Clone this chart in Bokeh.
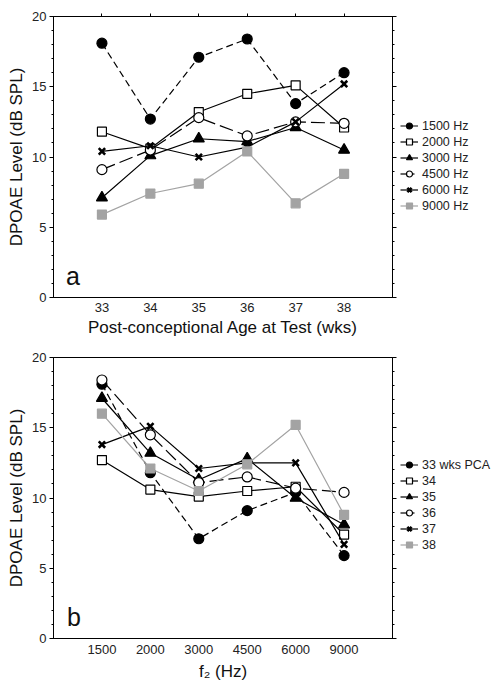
from bokeh.plotting import figure
from bokeh.models import (LinearAxis, Legend, LegendItem, FixedTicker, Range1d,
                          Label, FactorRange, CategoricalAxis)
from bokeh.layouts import column, row
from bokeh.embed import file_html
from bokeh.resources import INLINE

# ---------------- data ----------------
ages = [33, 34, 35, 36, 37, 38]
freqs = ["1500", "2000", "3000", "4500", "6000", "9000"]

lvl_1500 = [18.1, 12.7, 17.1, 18.4, 13.8, 16.0]
lvl_2000 = [11.8, 10.6, 13.2, 14.5, 15.1, 12.1]
lvl_3000 = [7.1, 10.1, 11.3, 11.1, 12.1, 10.5]
lvl_4500 = [9.1, 10.5, 12.8, 11.5, 12.5, 12.4]
lvl_6000 = [10.4, 10.8, 10.0, 10.7, 12.5, 15.2]
lvl_9000 = [5.9, 7.4, 8.1, 10.4, 6.7, 8.8]

top_labels = ["1500 Hz", "2000 Hz", "3000 Hz", "4500 Hz", "6000 Hz", "9000 Hz"]
bottom_labels = ["33 wks PCA", "34", "35", "36", "37", "38"]

y_ticks = [0, 5, 10, 15, 20]

freq_series = [lvl_1500, lvl_2000, lvl_3000, lvl_4500, lvl_6000, lvl_9000]
age_series = [[s[i] for s in freq_series] for i in range(len(ages))]

# ---------------- styles ----------------
FONT = "Liberation Sans"
GRAY = "#a3a3a3"
markers = ["circle", "square", "triangle", "circle", "x", "square"]
fills = ["black", "white", "black", "white", "black", GRAY]
lcolors = ["black", "black", "black", "black", "black", GRAY]
dashes = ["7 4", "solid", "solid", "14 5", "solid", "solid"]
msizes = [10, 9, 11, 10, 9, 9]
mwidths = [1.2, 1.2, 1.2, 1.2, 2.6, 1.2]


def style_axis(ax):
    ax.axis_line_color = "black"
    ax.axis_line_width = 1
    ax.major_tick_line_color = "black"
    ax.minor_tick_line_color = "black"
    ax.major_tick_in = 0
    ax.minor_tick_in = 0
    ax.major_tick_out = 4
    ax.minor_tick_out = 2
    ax.major_label_text_font = FONT
    ax.major_label_text_font_size = "13px"
    ax.major_label_text_color = "#222222"
    ax.axis_label_text_font = FONT
    ax.axis_label_text_font_size = "17px"
    ax.axis_label_text_font_style = "normal"
    ax.axis_label_text_color = "#111111"


def hide_labels(ax, keys):
    ax.major_label_overrides = {k: "" for k in keys}
    ax.major_label_standoff = 0


def draw_series(p, xs, series):
    rends = []
    for i, ys in enumerate(series):
        r_line = p.line(xs, ys, line_color=lcolors[i], line_width=1.2,
                        line_dash=dashes[i])
        if markers[i] == "x":
            r_mark = p.scatter(xs, ys, marker="x", size=msizes[i],
                               line_color=lcolors[i], line_width=mwidths[i])
        else:
            r_mark = p.scatter(xs, ys, marker=markers[i], size=msizes[i],
                               fill_color=fills[i], line_color=lcolors[i],
                               line_width=mwidths[i])
        rends.append((r_line, r_mark))
    return rends


def make_panel(x_range, xs, series, xlabel, letter, letter_x,
               border_top, border_bottom, lab_standoff, ax_standoff,
               categorical):
    p = figure(x_range=x_range, y_range=Range1d(0, 20),
               output_backend="svg", toolbar_location=None,
               min_border_left=53, min_border_top=border_top,
               min_border_right=6, min_border_bottom=border_bottom,
               x_axis_type=None, y_axis_type=None)
    p.frame_width = 339
    p.frame_height = 281
    p.xgrid.visible = False
    p.ygrid.visible = False
    p.outline_line_color = "black"
    p.outline_line_width = 1
    p.background_fill_color = "white"

    yt = FixedTicker(ticks=y_ticks, minor_ticks=list(range(0, 21)))
    left = LinearAxis(ticker=yt, axis_label="DPOAE Level (dB SPL)")
    style_axis(left)
    left.major_label_standoff = 3
    left.axis_label_standoff = 3
    p.add_layout(left, "left")

    right = LinearAxis(ticker=yt)
    style_axis(right)
    hide_labels(right, y_ticks)
    p.add_layout(right, "right")

    if categorical:
        below = CategoricalAxis(axis_label=xlabel)
    else:
        xt = FixedTicker(ticks=ages, minor_ticks=[])
        below = LinearAxis(ticker=xt, axis_label=xlabel)
        above = LinearAxis(ticker=xt)
        style_axis(above)
        above.major_tick_out = 3
        hide_labels(above, ages)
        p.add_layout(above, "above")
    style_axis(below)
    below.major_tick_out = 0
    below.major_label_standoff = lab_standoff
    below.axis_label_standoff = ax_standoff
    p.add_layout(below, "below")

    draw_series(p, xs, series)

    p.add_layout(Label(x=letter_x, y=0.55, text=letter, text_font=FONT,
                       text_font_size="25px", text_color="#111111"))
    return p


def make_legend(series, labels, border_top, border_bottom, leg_y):
    lf = figure(x_range=Range1d(0, 1), y_range=Range1d(0, 1),
                output_backend="svg", toolbar_location=None,
                min_border_left=2, min_border_right=0,
                min_border_top=border_top, min_border_bottom=border_bottom,
                x_axis_type=None, y_axis_type=None)
    lf.frame_width = 96
    lf.frame_height = 281
    lf.outline_line_color = None
    lf.xgrid.visible = False
    lf.ygrid.visible = False
    # legend sample glyphs (their data lie outside this small panel's ranges)
    rends = draw_series(lf, ages, series)
    items = [LegendItem(label=labels[i], renderers=list(rends[i]))
             for i in range(len(labels))]
    leg = Legend(items=items, location=(0, leg_y))
    leg.border_line_color = None
    leg.background_fill_alpha = 0
    leg.padding = 0
    leg.margin = 0
    leg.spacing = 1
    leg.glyph_width = 18
    leg.glyph_height = 15
    leg.label_height = 15
    leg.label_standoff = 4
    leg.label_text_font = FONT
    leg.label_text_font_size = "12.5px"
    leg.label_text_color = "#222222"
    lf.add_layout(leg, "center")
    return lf


top = make_panel(Range1d(32, 39), ages, freq_series,
                 "Post-conceptional Age at Test (wks)", "a", 32.26,
                 16, 47, 5, 3, False)
top_leg = make_legend(freq_series, top_labels, 16, 47, 84)

bx = FactorRange(factors=freqs, range_padding=0.5,
                 range_padding_units="absolute")
bottom = make_panel(bx, freqs, age_series, "f\u2082 (Hz)", "b", -0.22,
                    13, 50, 6, 5, True)
bot_leg = make_legend(age_series, bottom_labels, 13, 50, 86)

layout = column(row(top, top_leg, spacing=0),
                row(bottom, bot_leg, spacing=0), spacing=0)
open("out.html", "w").write(file_html(layout, INLINE))
